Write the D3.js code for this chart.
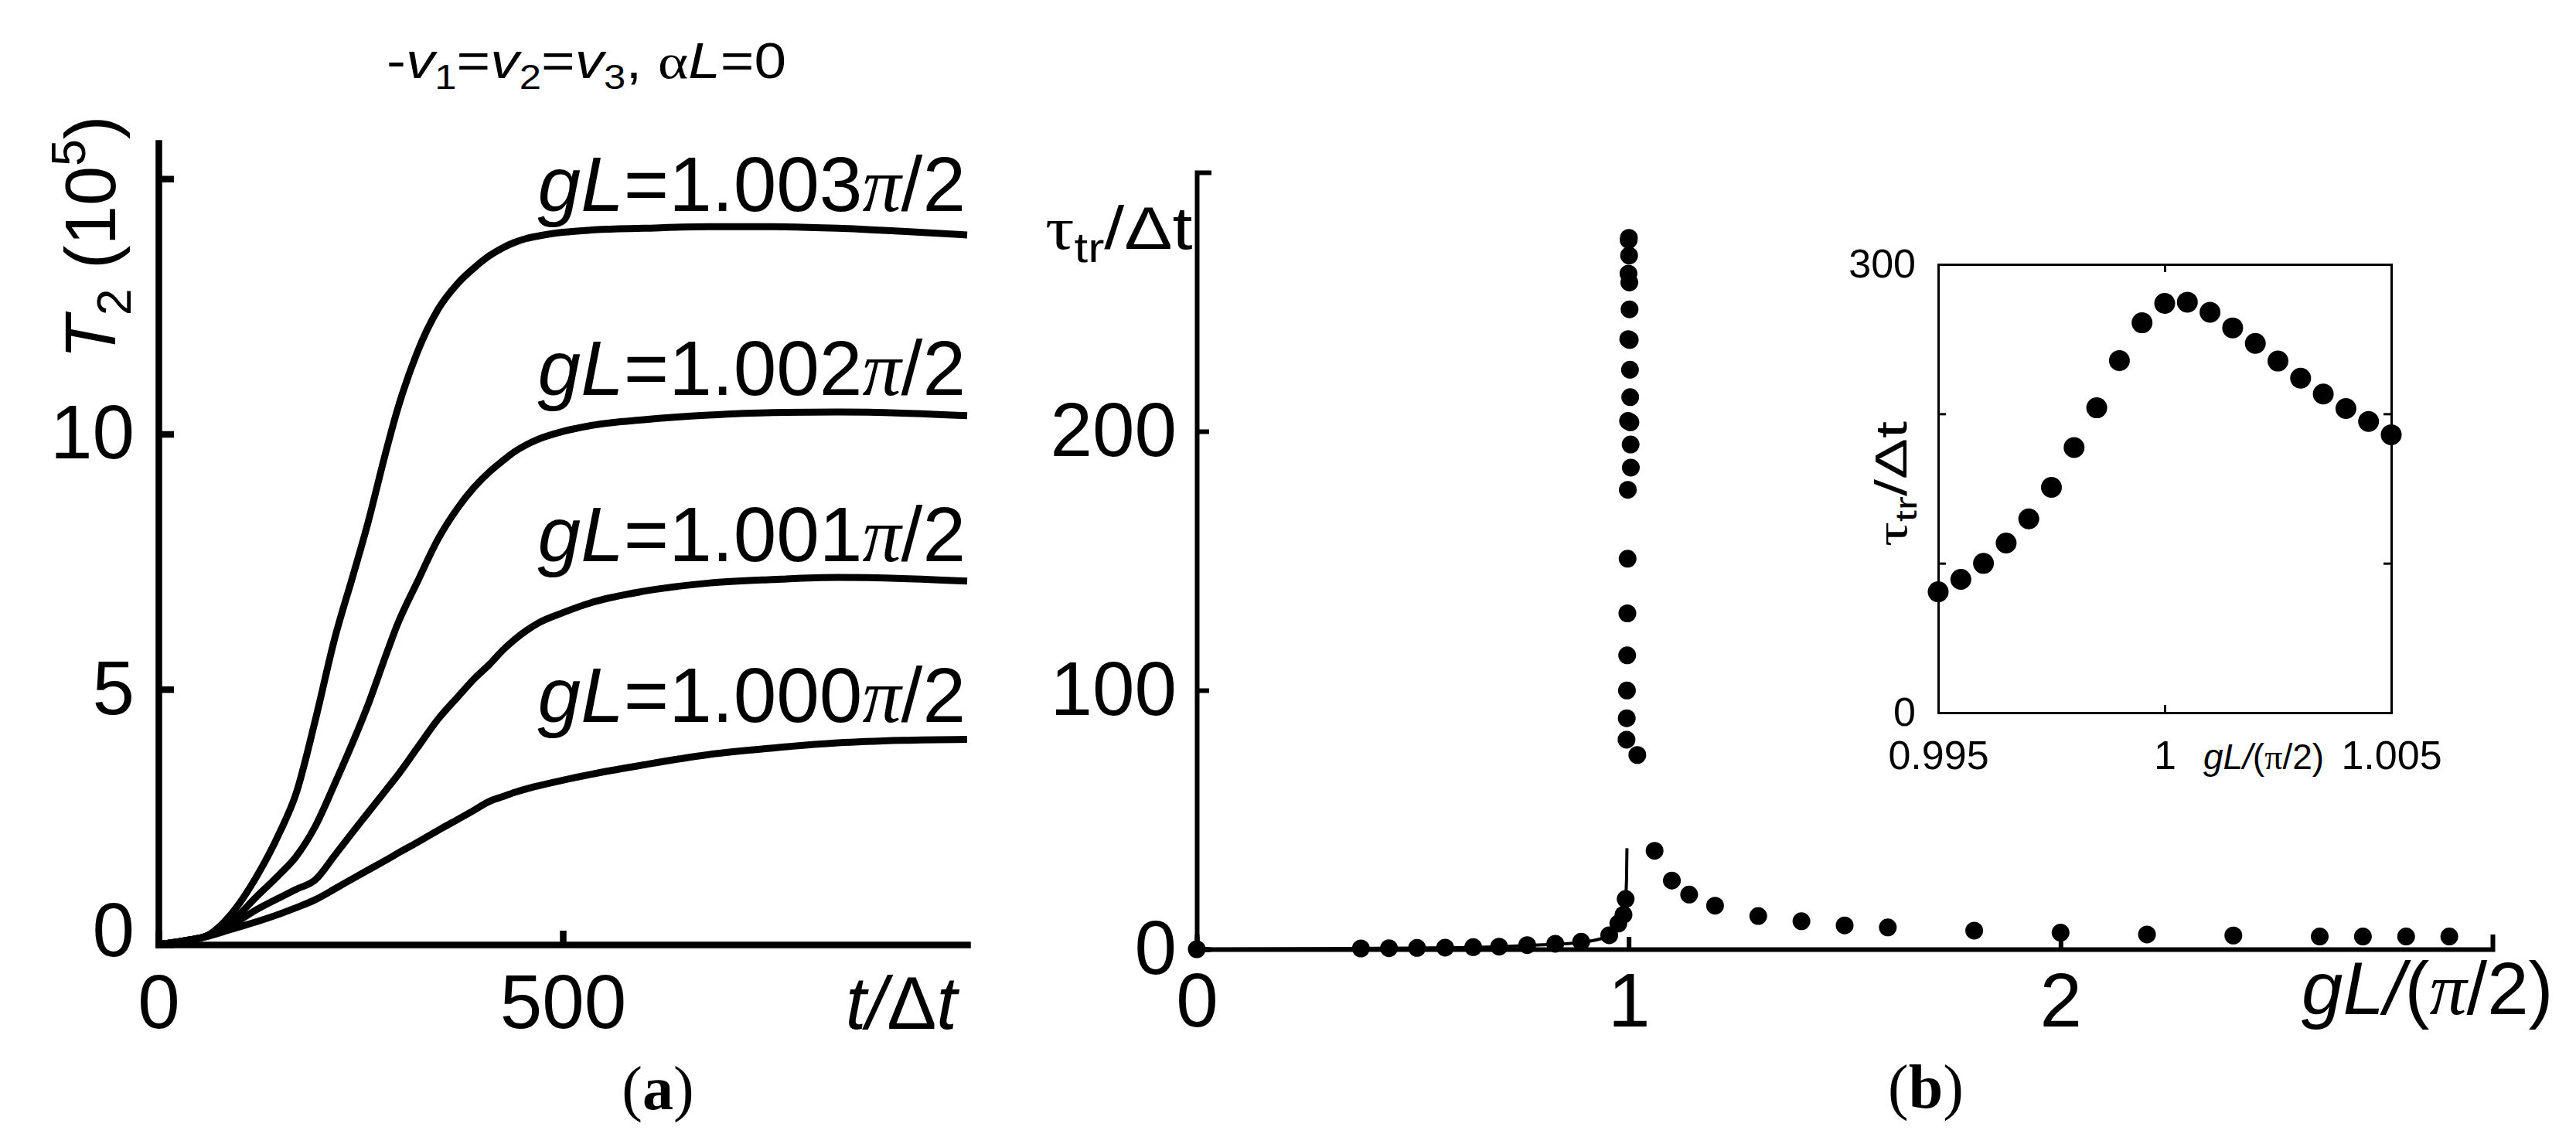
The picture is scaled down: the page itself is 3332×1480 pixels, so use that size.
<!DOCTYPE html>
<html>
<head>
<meta charset="utf-8">
<script src="https://cdn.jsdelivr.net/npm/d3@7"></script>
<style>
  body { margin: 0; background: #fff; }
  svg { display: block; }
  text { font-family: "Liberation Sans", Arial, sans-serif; fill: #000; }
  .ser { font-family: "Liberation Serif", "Times New Roman", serif; }
</style>
</head>
<body>
<div id="chart"></div>
<script>
// ---- panel (a): T2 (x1e5) against t/dt, one curve per gL ----
var tGrid = [0, 30, 58, 90, 122, 150, 170, 194, 218, 240, 258, 282, 295, 320, 346, 370, 390, 410, 426, 440, 455, 470, 500, 540, 600, 680, 760, 840, 920, 1000];
var gLNames = ["1.003", "1.002", "1.001", "1.000"];
var T2_1003 = [0, 0.07, 0.16, 0.6, 1.35, 2.2, 2.95, 4.4, 6.0, 7.2, 8.2, 9.7, 10.45, 11.6, 12.45, 12.95, 13.25, 13.5, 13.65, 13.75, 13.83, 13.88, 13.95, 14.0, 14.03, 14.06, 14.06, 14.03, 13.97, 13.9];
var T2_1002 = [0, 0.07, 0.16, 0.45, 0.95, 1.38, 1.72, 2.32, 3.15, 3.95, 4.65, 5.7, 6.25, 7.1, 7.95, 8.55, 8.95, 9.27, 9.48, 9.65, 9.79, 9.9, 10.05, 10.18, 10.28, 10.37, 10.42, 10.43, 10.41, 10.36];
var T2_1001 = [0, 0.07, 0.16, 0.38, 0.69, 0.92, 1.08, 1.27, 1.75, 2.2, 2.56, 3.04, 3.3, 3.85, 4.42, 4.85, 5.2, 5.5, 5.77, 5.97, 6.15, 6.3, 6.5, 6.72, 6.92, 7.08, 7.15, 7.19, 7.17, 7.12];
var T2_1000 = [0, 0.07, 0.15, 0.3, 0.45, 0.6, 0.72, 0.88, 1.09, 1.29, 1.45, 1.66, 1.78, 2.0, 2.24, 2.45, 2.63, 2.81, 2.9, 2.98, 3.05, 3.11, 3.22, 3.35, 3.52, 3.72, 3.85, 3.95, 4.0, 4.02];
var seriesA = [T2_1003, T2_1002, T2_1001, T2_1000];
var labelA_T2 = [14.0, 10.4, 7.15, 4.0]; // curve level under each label

// ---- panel (b): tau_tr/dt against gL/(pi/2) ----
var lowGL  = [0, 0.38, 0.445, 0.51, 0.575, 0.64, 0.70, 0.765, 0.83, 0.89, 0.955, 0.976, 0.988, 0.993];
var lowTau = [0, 0.3, 0.4, 0.5, 0.6, 0.8, 1.0, 1.6, 2.1, 2.9, 5.4, 9.9, 13.3, 19.4];
var insetGL  = [0.995, 0.9955, 0.996, 0.9965, 0.997, 0.9975, 0.998, 0.9985, 0.999, 0.9995, 1.0, 1.0005, 1.001, 1.0015, 1.002, 1.0025, 1.003, 1.0035, 1.004, 1.0045, 1.005];
var insetTau = [80.9, 89.2, 99.9, 113.5, 129.7, 150.8, 177.4, 204.0, 235.6, 260.9, 273.9, 274.7, 267.9, 257.5, 247.1, 235.3, 223.8, 213.2, 203.5, 194.9, 186.0];
var highGL  = [1.02, 1.06, 1.1, 1.14, 1.2, 1.3, 1.4, 1.5, 1.6, 1.8, 2.0, 2.2, 2.4, 2.6, 2.7, 2.8, 2.9];
var highTau = [75, 38, 26.5, 21.1, 16.8, 12.8, 10.8, 9.2, 8.4, 7.2, 6.4, 5.7, 5.3, 4.9, 4.9, 4.9, 4.9];
var lineGL  = [0, 0.3, 0.5, 0.7, 0.8, 0.88, 0.93, 0.96, 0.975, 0.985, 0.99, 0.993, 0.995, 0.996];
var lineTau = [0, 0.2, 0.45, 1.0, 1.7, 2.5, 3.8, 5.6, 8.0, 11.5, 15, 20, 27, 39];

var W = 3332, H = 1480;
var svg = d3.select("#chart").append("svg").attr("width", W).attr("height", H);

// rich text: parts {t, it, sub, sup, ser, b}
function rich(sel, parts, size) {
    var shift = 0;
    sel.attr("font-size", size);
    parts.forEach(function(p) {
        var ts = sel.append("tspan").text(p.t);
        var target = p.sub ? 0.22 * size : (p.sup ? -0.42 * size : 0);
        if (target !== shift) { ts.attr("dy", target - shift); shift = target; }
        if (p.sub || p.sup) ts.attr("font-size", size * 0.68);
        if (p.it) ts.attr("font-style", "italic");
        if (p.ser) ts.attr("class", "ser");
        if (p.b) ts.attr("font-weight", "bold");
    });
    return sel;
}

// stretch a text horizontally to a given width (group at x,y)
function stretched(parent, parts, size, x, y, width, rot) {
    var g = parent.append("g");
    var t = rich(g.append("text").attr("text-anchor", rot ? "middle" : "start"), parts, size);
    var bb = t.node().getBBox();
    var k = width / bb.width;
    g.attr("transform", "translate(" + x + "," + y + ")" + (rot ? " rotate(-90)" : "") + " scale(" + k + ",1)");
    return g;
}

function styleAxis(g, sw, fs) {
    g.attr("font-size", fs);
    g.select(".domain").attr("stroke-width", sw).attr("stroke-linecap", "square");
    g.selectAll(".tick line").attr("stroke-width", sw);
    g.selectAll(".tick text").attr("fill", "#000");
}

// ================= panel (a) =================
var xA = d3.scaleLinear().domain([0, 1000]).range([205, 1251]);
var yA = d3.scaleLinear().domain([0, 15.7]).range([1222, 185]);

var lineA = d3.line()
    .x(function(d, i) { return xA(tGrid[i]); })
    .y(function(d) { return yA(d); })
    .curve(d3.curveMonotoneX);

svg.append("g").selectAll("path")
    .data(seriesA)
    .enter().append("path")
    .attr("d", lineA)
    .attr("fill", "none")
    .attr("stroke", "#000")
    .attr("stroke-width", 9);

var axA_x = svg.append("g").attr("transform", "translate(0," + yA(0) + ")")
    .call(d3.axisBottom(xA).tickValues([0, 500]).tickSizeInner(-18).tickSizeOuter(0).tickPadding(38).tickFormat(d3.format("d")));
styleAxis(axA_x, 8.5, 98);

var axA_y = svg.append("g").attr("transform", "translate(" + xA(0) + ",0)")
    .call(d3.axisLeft(yA).tickValues([0, 5, 10, 15]).tickSizeInner(-20).tickSizeOuter(0).tickPadding(31)
        .tickFormat(function(d) { return d === 15 ? "" : d; }));
styleAxis(axA_y, 8.5, 98);
axA_y.selectAll(".tick text").filter(function(d) { return d === 0; }).attr("dy", "0.15em");

// curve labels
gLNames.forEach(function(n, i) {
    rich(svg.append("text")
        .attr("x", xA(1000) - 2)
        .attr("y", yA(labelA_T2[i]) - 24)
        .attr("text-anchor", "end"),
        [{t: "g", it: 1}, {t: "L", it: 1}, {t: "=" + n}, {t: "\u03c0", it: 1, ser: 1}, {t: "/2"}], 100);
});

// axis titles
rich(svg.append("text").attr("x", xA(1000) - 13).attr("y", 1331).attr("text-anchor", "end"),
    [{t: "t/", it: 1}, {t: "\u0394"}, {t: "t", it: 1}], 96);

rich(svg.append("text").attr("text-anchor", "middle")
    .attr("transform", "translate(149,307) rotate(-90)"),
    [{t: "T", it: 1}, {t: "2", sub: 1}, {t: " (10"}, {t: "5", sup: 1}, {t: ")"}], 92);

stretched(svg, [{t: "-"}, {t: "v", it: 1}, {t: "1", sub: 1}, {t: "="}, {t: "v", it: 1}, {t: "2", sub: 1}, {t: "="},
    {t: "v", it: 1}, {t: "3", sub: 1}, {t: ", "}, {t: "\u03b1", ser: 1}, {t: "L", it: 1}, {t: "=0"}], 64, 500, 101, 517, false);

rich(svg.append("text").attr("class", "ser").attr("x", 851).attr("y", 1435).attr("text-anchor", "middle"),
    [{t: "("}, {t: "a", b: 1}, {t: ")"}], 80);

// ================= panel (b) =================
var xB = d3.scaleLinear().domain([0, 3]).range([1548, 3224]);
var yB = d3.scaleLinear().domain([0, 300]).range([1228, 223]);

svg.append("path")
    .datum(lineGL)
    .attr("d", d3.line().x(function(d) { return xB(d); }).y(function(d, i) { return yB(lineTau[i]); }).curve(d3.curveMonotoneX))
    .attr("fill", "none")
    .attr("stroke", "#000")
    .attr("stroke-width", 4);

var mainGL = lowGL.concat(insetGL, highGL);
var mainTau = lowTau.concat(insetTau, highTau);

svg.append("g").selectAll("circle")
    .data(mainGL)
    .enter().append("circle")
    .attr("cx", function(d) { return xB(d); })
    .attr("cy", function(d, i) { return yB(mainTau[i]); })
    .attr("r", 11.5)
    .attr("fill", "#000");

var axB_x = svg.append("g").attr("transform", "translate(0," + yB(0) + ")")
    .call(d3.axisBottom(xB).tickValues([0, 1, 2]).tickSizeInner(-16).tickSizeOuter(-16).tickPadding(30).tickFormat(d3.format("d")));
styleAxis(axB_x, 6, 98);

var axB_y = svg.append("g").attr("transform", "translate(" + xB(0) + ",0)")
    .call(d3.axisLeft(yB).tickValues([0, 100, 200]).tickSizeInner(-16).tickSizeOuter(-16).tickPadding(26));
styleAxis(axB_y, 6, 98);

rich(svg.append("text").attr("x", 2977).attr("y", 1312),
    [{t: "gL/", it: 1}, {t: "("}, {t: "\u03c0", it: 1, ser: 1}, {t: "/2)"}], 96);

stretched(svg, [{t: "\u03c4", ser: 1}, {t: "tr", sub: 1}, {t: "/\u0394t"}], 78, 1352, 322, 191, false);

rich(svg.append("text").attr("class", "ser").attr("x", 2491).attr("y", 1433).attr("text-anchor", "middle"),
    [{t: "("}, {t: "b", b: 1}, {t: ")"}], 80);

// ---- inset ----
var xI = d3.scaleLinear().domain([0.995, 1.005]).range([2507, 3093]);
var yI = d3.scaleLinear().domain([0, 300]).range([922, 342]);
var inset = svg.append("g");

inset.append("g").selectAll("circle")
    .data(insetGL)
    .enter().append("circle")
    .attr("cx", function(d) { return xI(d); })
    .attr("cy", function(d, i) { return yI(insetTau[i]); })
    .attr("r", 13.5)
    .attr("fill", "#000");

var axI_b = inset.append("g").attr("transform", "translate(0," + yI(0) + ")")
    .call(d3.axisBottom(xI).tickValues([0.995, 1, 1.005]).tickSizeInner(-10).tickSizeOuter(0).tickPadding(36)
        .tickFormat(function(d) { return d === 1 ? "1" : d3.format(".3f")(d); }));
styleAxis(axI_b, 3, 52);
var axI_t = inset.append("g").attr("transform", "translate(0," + yI(300) + ")")
    .call(d3.axisTop(xI).tickValues([1]).tickSizeInner(-10).tickSizeOuter(0).tickFormat(""));
styleAxis(axI_t, 3, 52);
var axI_l = inset.append("g").attr("transform", "translate(" + xI(0.995) + ",0)")
    .call(d3.axisLeft(yI).tickValues([0, 100, 200, 300]).tickSizeInner(-10).tickSizeOuter(0).tickPadding(29)
        .tickFormat(function(d) { return (d === 0 || d === 300) ? d : ""; }));
styleAxis(axI_l, 3, 52);
var axI_r = inset.append("g").attr("transform", "translate(" + xI(1.005) + ",0)")
    .call(d3.axisRight(yI).tickValues([100, 200]).tickSizeInner(-10).tickSizeOuter(0).tickFormat(""));
styleAxis(axI_r, 3, 52);

rich(inset.append("text").attr("x", 2928).attr("y", 995).attr("text-anchor", "middle"),
    [{t: "gL/", it: 1}, {t: "("}, {t: "\u03c0", ser: 1}, {t: "/2)"}], 46);

stretched(inset, [{t: "\u03c4", ser: 1}, {t: "tr", sub: 1}, {t: "/\u0394t"}], 58, 2466, 626, 162, true);
</script>
</body>
</html>
